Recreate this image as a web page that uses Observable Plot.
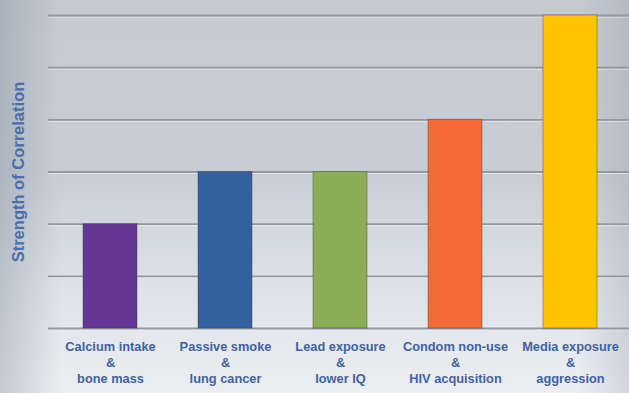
<!DOCTYPE html>
<html>
<head>
<meta charset="utf-8">
<script src="https://cdn.jsdelivr.net/npm/d3@7"></script>
<script src="https://cdn.jsdelivr.net/npm/@observablehq/plot@0.6"></script>
<style>
  html, body { margin: 0; padding: 0; }
  #chart {
    width: 629px; height: 393px; position: relative; overflow: hidden;
    background:
      linear-gradient(to right, rgba(120,135,150,0.35) 0px, rgba(120,135,150,0) 60px),
      linear-gradient(to left, rgba(130,140,155,0.25) 0px, rgba(130,140,155,0) 50px),
      linear-gradient(to bottom, #c4cad2 0%, #c9ced6 45%, #dfe3e8 75%, #eceef1 100%);
  }
  #chart svg { display: block; background: transparent; }
</style>
</head>
<body>
<div id="chart"></div>
<script>
const categories = [
  "Calcium intake\n&\nbone mass",
  "Passive smoke\n&\nlung cancer",
  "Lead exposure\n&\nlower IQ",
  "Condom non-use\n&\nHIV acquisition",
  "Media exposure\n&\naggression"
];
const values = [2, 3, 3, 4, 6];
const barColors = ["#663695", "#33609e", "#8aad55", "#f46a36", "#ffc600"];
const gridTicks = [0, 1, 2, 3, 4, 5, 6];
const yLabel = "Strength of Correlation";

const data = categories.map((c, i) => ({category: c, value: values[i]}));

const plot = Plot.plot({
  width: 629,
  height: 393,
  marginLeft: 48,
  marginRight: 0,
  marginTop: 15,
  marginBottom: 65,
  style: {background: "transparent", fontFamily: "'Liberation Sans', Arial, sans-serif"},
  x: {domain: categories, paddingInner: 0.53, paddingOuter: 0.265, insetLeft: 3, label: null},
  y: {domain: [0, 6], label: null, axis: null},
  color: {domain: categories, range: barColors},
  marks: [
    Plot.ruleY(gridTicks, {stroke: "#ffffff", strokeOpacity: 0.5, strokeWidth: 1, dy: 1.5}),
    Plot.ruleY(gridTicks, {stroke: "#93989f", strokeWidth: 1.8}),
    Plot.barY(data, {x: "category", y: "value", fill: "category", stroke: "#3a3a3a", strokeOpacity: 0.35, strokeWidth: 1.2}),
    Plot.axisX({tickSize: 0, tickPadding: 11, fontSize: 12.8, fontWeight: "bold", fill: "#3f63a1", lineHeight: 1.25, lineAnchor: "top"}),
    Plot.text([yLabel], {frameAnchor: "left", textAnchor: "middle", rotate: -90, dx: -30, fontSize: 16.5, fontWeight: "bold", fill: "#4a6ea8"})
  ]
});
document.getElementById("chart").appendChild(plot);
</script>
</body>
</html>
